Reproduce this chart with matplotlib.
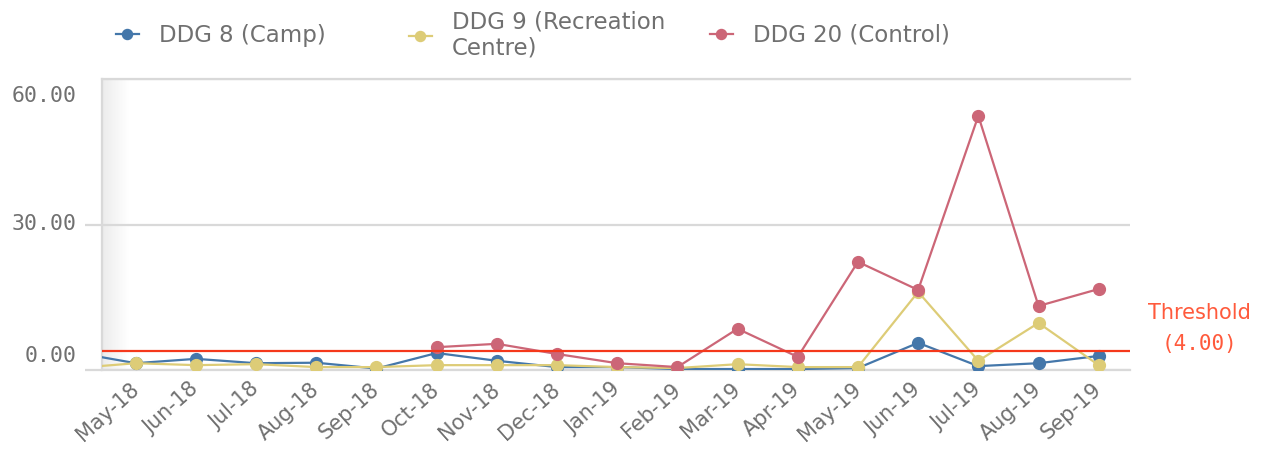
import numpy as np
import matplotlib
matplotlib.use("Agg")
import matplotlib.pyplot as plt

# months (Apr-18 sits just left of the visible window, only its line stub shows)
months = ["Apr-18", "May-18", "Jun-18", "Jul-18", "Aug-18", "Sep-18", "Oct-18",
          "Nov-18", "Dec-18", "Jan-19", "Feb-19", "Mar-19", "Apr-19", "May-19",
          "Jun-19", "Jul-19", "Aug-19", "Sep-19"]

ddg8 = [3.6, 1.4, 2.3, 1.4, 1.5, 0.3, 3.5, 1.9, 0.6, 0.6, 0.2, 0.2, 0.2, 0.4,
        5.6, 0.8, 1.4, 2.9]
ddg9 = [0.4, 1.4, 1.0, 1.2, 0.6, 0.6, 1.0, 1.0, 1.0, 0.6, 0.4, 1.2, 0.6, 0.6,
        16.1, 1.9, 9.7, 1.0]
ddg20 = [np.nan, np.nan, np.nan, np.nan, np.nan, np.nan, 4.7, 5.4, 3.3, 1.4,
         0.6, 8.5, 2.7, 22.3, 16.5, 52.4, 13.2, 16.7]

threshold = 4.0
yticks = [0, 30, 60]
ytick_labels = ["0.00", "30.00", "60.00"]

c_blue = "#4477aa"
c_yellow = "#ddcc77"
c_red = "#cc6677"
c_thr = "#f5381b"
grid_c = "#d9d9d9"
txt_c = "#707070"

fig = plt.figure(figsize=(12.69, 4.51), dpi=100)
ax = fig.add_axes([102 / 1269, 1 - 370 / 451, (1130 - 102) / 1269, (370 - 79) / 451])

x = np.arange(len(months))
l8, = ax.plot(x, ddg8, color=c_blue, lw=1.6, marker="o", ms=8.5, label="DDG 8 (Camp)", zorder=3)
l9, = ax.plot(x, ddg9, color=c_yellow, lw=1.6, marker="o", ms=8.5,
              label="DDG 9 (Recreation\nCentre)", zorder=4)
l20, = ax.plot(x, ddg20, color=c_red, lw=1.6, marker="o", ms=8.5, label="DDG 20 (Control)", zorder=5)

ax.axhline(threshold, color=c_thr, lw=1.6, zorder=6)

# faint shadow on the left edge of the plot area
grad = np.linspace(0, 1, 50).reshape(1, -1)
ax.imshow(grad, cmap=matplotlib.colors.LinearSegmentedColormap.from_list("sh", ["#ececec", "#ffffff"]),
          extent=[0, 0.026, 0, 1], transform=ax.transAxes, aspect="auto", zorder=0)

ax.spines["right"].set_visible(False)
for s in ["left", "top", "bottom"]:
    ax.spines[s].set_color(grid_c)
    ax.spines[s].set_linewidth(1.6)
ax.yaxis.grid(True, color=grid_c, lw=1.6, zorder=1)
ax.set_axisbelow(True)

ax.set_yticks(yticks)
ax.set_yticklabels([])
ax.tick_params(axis="y", length=12, width=1.6, color=grid_c, pad=0)
ax.yaxis.get_major_ticks()[2].tick1line.set_visible(False)

ax.set_xticks(x)
ax.set_xticklabels(months, rotation=42, ha="right", va="center", rotation_mode="anchor",
                   fontsize=15, color=txt_c)
ax.tick_params(axis="x", length=0, pad=12)

# limits last, set_xticks would widen them
ax.set_xlim(0.44, 17.52)
ax.set_ylim(0, 60)

# qlik-style placement of the value labels
vas = ["bottom", "center", "top"]
offs = [3, 0, -5]
for v, lab, va, o in zip(yticks, ytick_labels, vas, offs):
    ax.annotate(lab, (0, v), xycoords=("axes fraction", "data"), xytext=(-18, o),
                textcoords="offset points", ha="right", va=va, fontsize=15.5,
                family="DejaVu Sans Mono", color=txt_c)

# threshold label
ax.annotate("Threshold", (1.068, threshold), xycoords=("axes fraction", "data"), xytext=(0, 27),
            textcoords="offset points", ha="center", va="center", fontsize=15, color="#ff5a3c")
ax.annotate("(4.00)", (1.068, threshold), xycoords=("axes fraction", "data"), xytext=(0, 4.5),
            textcoords="offset points", ha="center", va="center", fontsize=15,
            family="DejaVu Sans Mono", color="#ff5a3c")

# legend entries sit in fixed-width slots like the original
for h, lx in zip([l8, l9, l20], [0.0749, 0.3058, 0.543]):
    leg = fig.legend(handles=[h], loc="center left", bbox_to_anchor=(lx, 0.922), frameon=False,
                     fontsize=16.5, handlelength=1.0, handletextpad=0.9, markerscale=0.85)
    for t in leg.get_texts():
        t.set_color(txt_c)
        t.set_linespacing(1.15)

fig.savefig("out.png", dpi=100)
